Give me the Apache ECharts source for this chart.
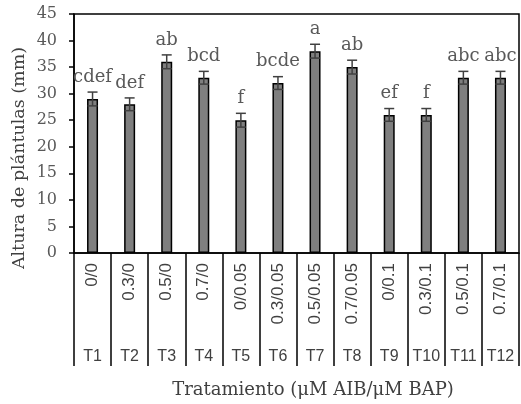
<!DOCTYPE html>
<html>
<head>
<meta charset="utf-8">
<script src="https://cdn.jsdelivr.net/npm/echarts@6/dist/echarts.min.js"></script>
<style>html,body{margin:0;padding:0;background:#fff}#c{width:521px;height:404px}</style>
</head>
<body>
<div id="c"></div>
<script>
const doses = ['0/0','0.3/0','0.5/0','0.7/0','0/0.05','0.3/0.05','0.5/0.05','0.7/0.05','0/0.1','0.3/0.1','0.5/0.1','0.7/0.1'];
const treatments = ['T1','T2','T3','T4','T5','T6','T7','T8','T9','T10','T11','T12'];
const heights = [29, 28, 36, 33, 25, 32, 38, 35, 26, 26, 33, 33];
const errors = [1.3, 1.2, 1.3, 1.2, 1.3, 1.2, 1.3, 1.3, 1.2, 1.2, 1.2, 1.2];
const letters = ['cdef','def','ab','bcd','f','bcde','a','ab','ef','f','abc','abc'];
const yTicks = [0, 45, 5];

const serif = 'DejaVu Serif';
const sans = 'Liberation Sans';

const chart = echarts.init(document.getElementById('c'), null, {renderer: 'canvas'});
chart.setOption({
  animation: false,
  grid: {left: 74, right: 2, top: 14, bottom: 151, show: true, borderColor: '#000', borderWidth: 1.5, backgroundColor: 'transparent'},
  xAxis: [{
    type: 'category',
    data: doses,
    position: 'bottom',
    axisLine: {show: true, lineStyle: {color: '#000', width: 1.5}},
    axisTick: {show: true, interval: 0, length: 113, lineStyle: {color: '#000', width: 1.5}},
    axisLabel: {interval: 0, rotate: 90, margin: 10, fontFamily: sans, fontSize: 17, color: '#404040'},
    splitLine: {show: false}
  }, {
    type: 'category',
    data: treatments,
    position: 'bottom',
    offset: 91,
    axisLine: {show: false},
    axisTick: {show: false},
    axisLabel: {interval: 0, margin: 5, fontFamily: sans, fontSize: 16, color: '#404040'},
    splitLine: {show: false}
  }],
  yAxis: {
    type: 'value',
    min: yTicks[0], max: yTicks[1], interval: yTicks[2],
    axisLine: {show: true, lineStyle: {color: '#000', width: 1.5}},
    axisTick: {show: true, inside: false, length: 5, lineStyle: {color: '#000', width: 1.5}},
    axisLabel: {margin: 17, fontFamily: serif, fontSize: 16, color: '#595959'},
    splitLine: {show: false}
  },
  graphic: [{
    type: 'text',
    x: 19, y: 158,
    rotation: Math.PI / 2,
    style: {text: 'Altura de plántulas (mm)', fontFamily: serif, fontSize: 17.5, fill: '#404040', align: 'center', verticalAlign: 'middle'}
  }, {
    type: 'text',
    x: 313, y: 390,
    style: {text: 'Tratamiento (μM AIB/μM BAP)', fontFamily: serif, fontSize: 18, fill: '#404040', align: 'center', verticalAlign: 'middle'}
  }],
  series: [{
    type: 'bar',
    data: heights,
    barWidth: 11,
    itemStyle: {color: '#7f7f7f', borderColor: '#000', borderWidth: 1.5},
    z: 2
  }, {
    type: 'custom',
    z: 3,
    data: heights.map((v, i) => [i, v, errors[i]]),
    renderItem: function (params, api) {
      const i = api.value(0), v = api.value(1), e = api.value(2);
      const top = api.coord([i, v + e]);
      const bot = api.coord([i, v - e]);
      const x = top[0];
      const hw = 5;
      const ls = {stroke: '#404040', lineWidth: 1.5};
      return {
        type: 'group',
        children: [
          {type: 'line', shape: {x1: x, y1: top[1], x2: x, y2: bot[1]}, style: ls},
          {type: 'line', shape: {x1: x - hw, y1: top[1], x2: x + hw, y2: top[1]}, style: ls},
          {type: 'line', shape: {x1: x - hw, y1: bot[1], x2: x + hw, y2: bot[1]}, style: ls},
          {type: 'text', x: x, y: top[1] - 6, style: {text: letters[params.dataIndex], fontFamily: serif, fontSize: 18, fill: '#595959', align: 'center', verticalAlign: 'bottom'}}
        ]
      };
    }
  }]
});
</script>
</body>
</html>
